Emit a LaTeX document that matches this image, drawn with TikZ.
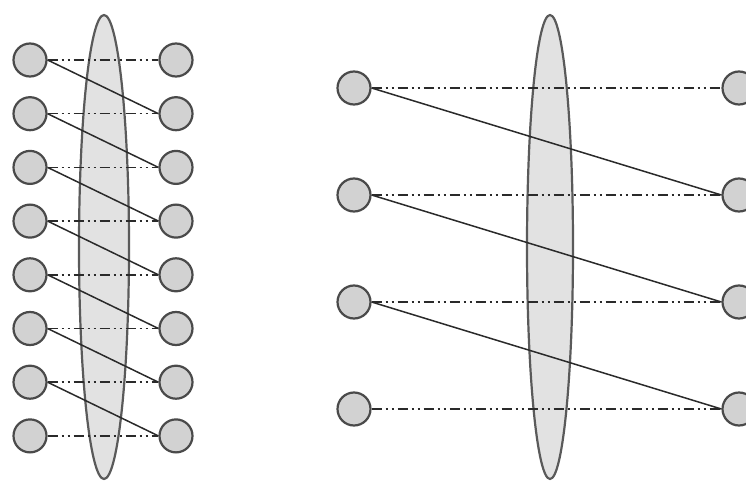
\documentclass[tikz,border=0pt]{standalone}
\usetikzlibrary{shapes.geometric}
\definecolor{circfill}{HTML}{D2D2D2}
\definecolor{circdraw}{HTML}{4A4A4A}
\definecolor{lensfill}{HTML}{E2E2E2}
\definecolor{lensdraw}{HTML}{5A5A5A}
\definecolor{linecol}{HTML}{2A2A2A}
\tikzset{
  dot/.style={circle, draw=circdraw, fill=circfill, line width=2.2pt, minimum size=33pt, inner sep=0pt},
  lens/.style={ellipse, draw=lensdraw, fill=lensfill, line width=2.2pt, inner sep=0pt},
  dashline/.style={draw=linecol, line width=1.5pt, dash pattern=on 10pt off 4pt on 2pt off 4pt on 2pt off 4pt},
  solidline/.style={draw=linecol, line width=1.5pt}
}
\begin{document}
\begin{tikzpicture}[x=1pt,y=-1pt]
\useasboundingbox (0,0) rectangle (746,481);
\clip (0,0) rectangle (746,481);
% lenses
\node[lens, minimum width=50pt, minimum height=464pt] (lensA) at (104,247) {};
\node[lens, minimum width=46pt, minimum height=464pt] (lensB) at (550,247) {};
% left group
\foreach \i in {0,...,7} {
  \pgfmathsetmacro{\yy}{60+\i*53.7}
  \node[dot] (a\i) at (30,\yy) {};
  \node[dot] (b\i) at (176,\yy) {};
}
\foreach \i in {0,...,7} {
  \draw[dashline] (a\i.east) -- (b\i.west);
}
\foreach \i [evaluate=\i as \j using int(\i+1)] in {0,...,6} {
  \draw[solidline] (a\i.east) -- (b\j.west);
}
% right group
\foreach \i in {0,...,3} {
  \pgfmathsetmacro{\yy}{88+\i*107}
  \node[dot] (c\i) at (354,\yy) {};
  \node[dot] (d\i) at (739,\yy) {};
}
\foreach \i in {0,...,3} {
  \draw[dashline] (c\i.east) -- (d\i.west);
}
\foreach \i [evaluate=\i as \j using int(\i+1)] in {0,...,2} {
  \draw[solidline] (c\i.east) -- (d\j.west);
}
\end{tikzpicture}
\end{document}
